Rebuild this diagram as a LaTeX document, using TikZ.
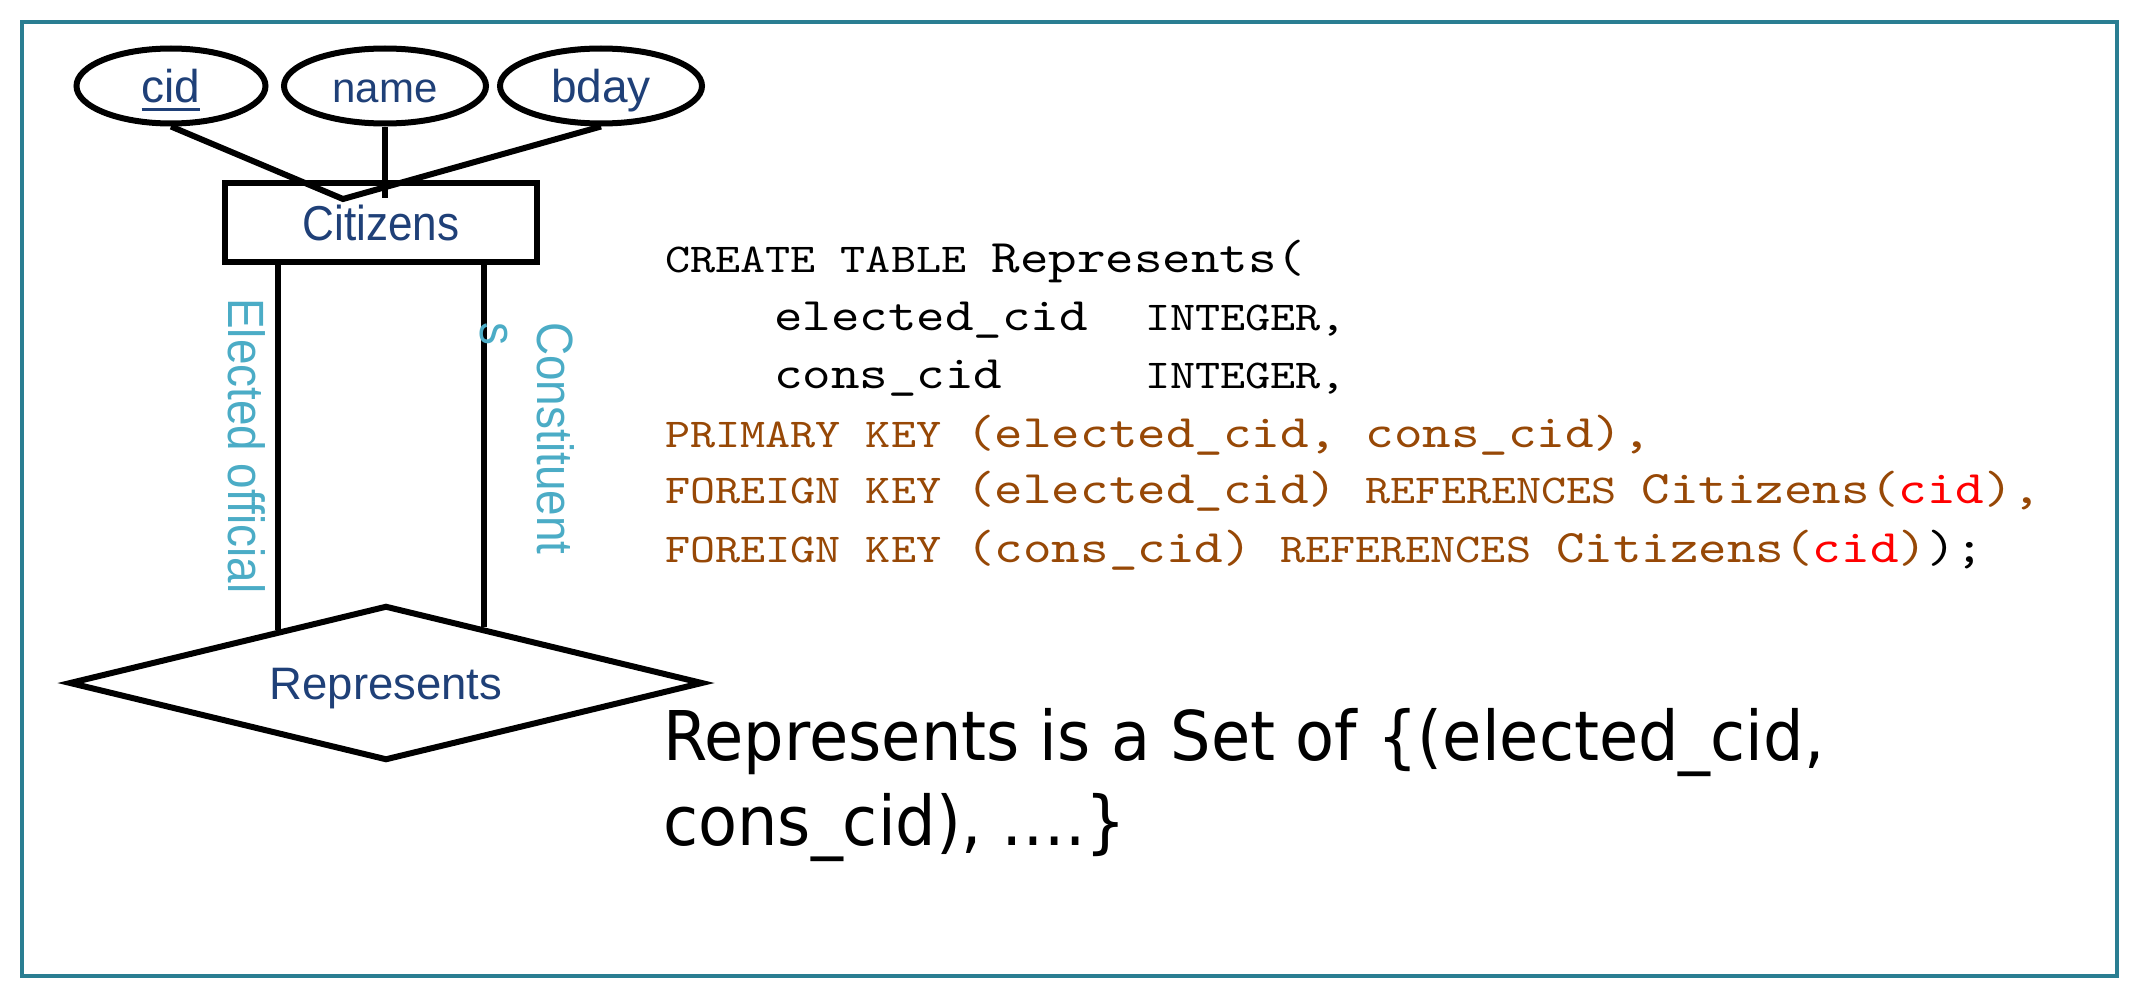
\documentclass[tikz,border=0pt]{standalone}
\usepackage{fontspec}
\usetikzlibrary{shapes.geometric,calc}

% fonts: sans for the ER labels (a narrow cut and a plain cut),
% typewriter for the SQL, a wide sans for the summary
\newfontfamily\erfont{Liberation Sans}[FakeStretch=0.9]
\newfontfamily\erplain{Liberation Sans}
\newfontfamily\codefont{lmmono10-regular.otf}[FakeStretch=1.166]
\newfontfamily\bigsans{DejaVu Sans}[FakeStretch=0.93]

\definecolor{framecol}{RGB}{42,126,146}
\definecolor{erblue}{RGB}{31,64,120}
\definecolor{rolecol}{RGB}{75,172,198}
\definecolor{codebrown}{RGB}{151,72,6}

% SQL keyword size and identifier size
\newcommand\kwsz{\fontsize{41}{50}\selectfont}
\newcommand\idsz{\fontsize{46.6}{56}\selectfont}
% underlined key attribute
\newcommand\ulkey[1]{\setbox0\hbox{#1}\rlap{\rule[-8.5pt]{\wd0}{3.3pt}}\box0}

\tikzset{
  erline/.style={line width=6pt, draw=black},
  attr/.style={ellipse, draw=black, line width=6pt, inner sep=0pt,
    minimum height=75pt, text=erblue,
    font=\erplain\fontsize{46}{56}\selectfont, text height=33pt, text depth=0pt},
  entity/.style={rectangle, draw=black, line width=6pt, inner sep=0pt,
    minimum width=312pt, minimum height=79pt, text=erblue,
    font=\erfont\fontsize{49}{60}\selectfont, text height=35pt, text depth=0pt},
  relship/.style={diamond, aspect=4, draw=black, line width=6pt, inner sep=0pt,
    minimum width=634pt, minimum height=155pt, text=erblue,
    font=\erplain\fontsize{45.5}{56}\selectfont, text height=33pt, text depth=0pt},
  role/.style={rotate=-90, anchor=base west, inner sep=0pt, text=rolecol,
    font=\erfont\fontsize{51}{60}\selectfont},
  code/.style={anchor=base west, inner sep=0pt, text=black, font=\codefont\frenchspacing},
  settext/.style={anchor=base west, inner sep=0pt, text=black,
    font=\bigsans\fontsize{68.6}{85}\selectfont\frenchspacing},
}

\begin{document}
\begin{tikzpicture}[x=1pt, y=-1pt]
  \fill[white] (0,0) rectangle (2132,990);
  \useasboundingbox (0,0) rectangle (2132,990);

  % outer frame
  \draw[line width=4.3pt, draw=framecol] (22,22) rectangle (2117,976);

  % attributes
  \node[attr, minimum width=189pt] (cid) at (171,86) {\ulkey{cid}};
  \node[attr, minimum width=202pt, font=\erplain\fontsize{42}{56}\selectfont] (name) at (385,86) {name};
  \node[attr, minimum width=202pt] (bday) at (601,86) {bday};

  % entity set
  \node[entity] (cit) at (381,222.5) {Citizens};

  % attribute connectors
  \coordinate (jn) at (343,199);
  \coordinate (nj) at (385,198);
  \draw[erline] (cid.south) -- (jn) -- (bday.south);
  \draw[erline] (name.south) -- (nj);

  % relationship set
  \node[relship] (rel) at (386,683) {Represents};

  % role connectors
  \coordinate (eL) at ($(rel.north)!0.3375!(rel.west)$);
  \coordinate (eR) at ($(rel.north)!0.306!(rel.east)$);
  \draw[erline] (eL |- cit.south) -- (eL);
  \draw[erline] (eR |- cit.south) -- (eR);

  % role labels
  \node[role] (roleE) at (228,298) {Elected official};
  \node[role] (roleC) at (537,322) {Constituent};
  \node[role] (roleC2) at (480,322) {s};

  % SQL definition
  \node[code] (ln1) at (665,272) {\kwsz CREATE TABLE \idsz Represents(};
  \node[code] (ln2a) at (774,330) {\idsz elected\_cid};
  \node[code] (ln2b) at (1145,330) {\kwsz INTEGER,};
  \node[code] (ln3a) at (774,388) {\idsz cons\_cid};
  \node[code] (ln3b) at (1145,388) {\kwsz INTEGER,};
  \node[code, text=codebrown] (ln4) at (665,447)
    {\kwsz PRIMARY KEY \idsz (elected\_cid, cons\_cid),};
  \node[code, text=codebrown] (ln5) at (665,503)
    {\kwsz FOREIGN KEY \idsz (elected\_cid) \kwsz REFERENCES \idsz Citizens(\textcolor{red}{cid}),};
  \node[code, text=codebrown] (ln6) at (665,562)
    {\kwsz FOREIGN KEY \idsz (cons\_cid) \kwsz REFERENCES \idsz Citizens(\textcolor{red}{cid})\textcolor{black}{);}};

  % summary
  \node[settext] (set1) at (663,760) {Represents is a Set of \{(elected\_cid,};
  \node[settext] (set2) at (663,845) {cons\_cid), ….\}};
\end{tikzpicture}
\end{document}
